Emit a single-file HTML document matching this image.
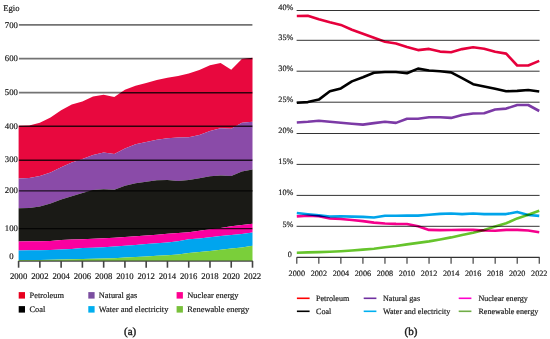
<!DOCTYPE html>
<html><head><meta charset="utf-8"><style>
html,body{margin:0;padding:0;background:#fff;}
body{width:550px;height:339px;overflow:hidden;}
svg{display:block;}
text{text-rendering:geometricPrecision;font-family:"Liberation Serif",serif;fill:#1a1a1a;stroke:#1a1a1a;stroke-width:0.18px;}
.l{font-size:8.7px;}
.r{font-size:8.2px;}
.lg{font-size:8.4px;}
.rg{font-size:8.1px;}
.cap{font-size:11px;stroke-width:0.4px;}
</style></head><body>
<svg width="550" height="339" viewBox="0 0 550 339">
<line x1="18.9" y1="24.8" x2="252.4" y2="24.8" stroke="#000" stroke-opacity="0.55" stroke-width="1.8"/>
<line x1="18.9" y1="58.6" x2="252.4" y2="58.6" stroke="#000" stroke-opacity="0.55" stroke-width="1.8"/>
<line x1="18.9" y1="92.7" x2="252.4" y2="92.7" stroke="#000" stroke-opacity="0.55" stroke-width="1.8"/>
<line x1="18.9" y1="126.3" x2="252.4" y2="126.3" stroke="#000" stroke-opacity="0.55" stroke-width="1.8"/>
<line x1="18.9" y1="160.2" x2="252.4" y2="160.2" stroke="#000" stroke-opacity="0.55" stroke-width="1.8"/>
<line x1="18.9" y1="190.9" x2="252.4" y2="190.9" stroke="#000" stroke-opacity="0.55" stroke-width="1.8"/>
<line x1="18.9" y1="228.6" x2="252.4" y2="228.6" stroke="#000" stroke-opacity="0.55" stroke-width="1.8"/>
<polygon points="18.6,125.7 29.23,125.4 39.86,122.8 50.5,117.6 61.13,110.2 71.76,104.5 82.39,101.5 93.02,96.5 103.66,94.8 114.29,97 124.92,89.8 135.55,85.8 146.18,83 156.82,80 167.45,77.8 178.08,76 188.71,73.6 199.34,70.1 209.98,65.3 220.61,63 231.24,69.7 241.87,59.1 252.5,57.7 252.5,121.8 241.87,122.7 231.24,128.7 220.61,128.3 209.98,131 199.34,135 188.71,137.2 178.08,137.5 167.45,138.3 156.82,139.8 146.18,142 135.55,144.3 124.92,148.4 114.29,154 103.66,152.6 93.02,155.1 82.39,159 71.76,162.4 61.13,167.2 50.5,172.6 39.86,176.1 29.23,178 18.6,178.6" fill="#E8083E"/>
<polygon points="18.6,178.6 29.23,178 39.86,176.1 50.5,172.6 61.13,167.2 71.76,162.4 82.39,159 93.02,155.1 103.66,152.6 114.29,154 124.92,148.4 135.55,144.3 146.18,142 156.82,139.8 167.45,138.3 178.08,137.5 188.71,137.2 199.34,135 209.98,131 220.61,128.3 231.24,128.7 241.87,122.7 252.5,121.8 252.5,169.4 241.87,171.5 231.24,175.9 220.61,175.4 209.98,176.3 199.34,178.2 188.71,180 178.08,181 167.45,180.1 156.82,180.3 146.18,181.8 135.55,183.2 124.92,185.8 114.29,189.7 103.66,189.2 93.02,190.1 82.39,192.9 71.76,196.2 61.13,199.5 50.5,203.5 39.86,206.5 29.23,208 18.6,208.3" fill="#8A4BA8"/>
<polygon points="18.6,208.3 29.23,208 39.86,206.5 50.5,203.5 61.13,199.5 71.76,196.2 82.39,192.9 93.02,190.1 103.66,189.2 114.29,189.7 124.92,185.8 135.55,183.2 146.18,181.8 156.82,180.3 167.45,180.1 178.08,181 188.71,180 199.34,178.2 209.98,176.3 220.61,175.4 231.24,175.9 241.87,171.5 252.5,169.4 252.5,223.8 241.87,225.1 231.24,226.3 220.61,228 209.98,229.2 199.34,230.8 188.71,232.3 178.08,233.1 167.45,233.8 156.82,234.7 146.18,235.5 135.55,236.3 124.92,236.9 114.29,237.7 103.66,238.3 93.02,238.7 82.39,239.2 71.76,239.4 61.13,239.9 50.5,240.9 39.86,241.2 29.23,241.3 18.6,241.5" fill="#1A1A16"/>
<polygon points="18.6,241.5 29.23,241.3 39.86,241.2 50.5,240.9 61.13,239.9 71.76,239.4 82.39,239.2 93.02,238.7 103.66,238.3 114.29,237.7 124.92,236.9 135.55,236.3 146.18,235.5 156.82,234.7 167.45,233.8 178.08,233.1 188.71,232.3 199.34,230.8 209.98,229.2 220.61,228 231.24,226.3 241.87,225.1 252.5,223.8 252.5,232.4 241.87,234 231.24,235 220.61,236 209.98,237.3 199.34,238.4 188.71,239.3 178.08,241.3 167.45,242.4 156.82,243.2 146.18,244 135.55,245 124.92,245.7 114.29,246.5 103.66,247.2 93.02,247.8 82.39,248.1 71.76,249.1 61.13,249.6 50.5,250 39.86,250.2 29.23,250.3 18.6,250.4" fill="#FA00A0"/>
<polygon points="18.6,250.4 29.23,250.3 39.86,250.2 50.5,250 61.13,249.6 71.76,249.1 82.39,248.1 93.02,247.8 103.66,247.2 114.29,246.5 124.92,245.7 135.55,245 146.18,244 156.82,243.2 167.45,242.4 178.08,241.3 188.71,239.3 199.34,238.4 209.98,237.3 220.61,236 231.24,235 241.87,234 252.5,232.4 252.5,245.7 241.87,247.5 231.24,248.6 220.61,249.8 209.98,251 199.34,252 188.71,253.1 178.08,254.4 167.45,255.2 156.82,255.8 146.18,256.5 135.55,257 124.92,257.5 114.29,258.2 103.66,258.5 93.02,258.8 82.39,259 71.76,259.3 61.13,259.5 50.5,259.7 39.86,259.9 29.23,260 18.6,260.1" fill="#00A5EE"/>
<polygon points="18.6,260.1 29.23,260 39.86,259.9 50.5,259.7 61.13,259.5 71.76,259.3 82.39,259 93.02,258.8 103.66,258.5 114.29,258.2 124.92,257.5 135.55,257 146.18,256.5 156.82,255.8 167.45,255.2 178.08,254.4 188.71,253.1 199.34,252 209.98,251 220.61,249.8 231.24,248.6 241.87,247.5 252.5,245.7 252.5,261 241.87,261 231.24,261 220.61,261 209.98,261 199.34,261 188.71,261 178.08,261 167.45,261 156.82,261 146.18,261 135.55,261 124.92,261 114.29,261 103.66,261 93.02,261 82.39,261 71.76,261 61.13,261 50.5,261 39.86,261 29.23,261 18.6,261" fill="#7ACF3A"/>
<clipPath id="ca"><polygon points="18.6,125.7 29.23,125.4 39.86,122.8 50.5,117.6 61.13,110.2 71.76,104.5 82.39,101.5 93.02,96.5 103.66,94.8 114.29,97 124.92,89.8 135.55,85.8 146.18,83 156.82,80 167.45,77.8 178.08,76 188.71,73.6 199.34,70.1 209.98,65.3 220.61,63 231.24,69.7 241.87,59.1 252.5,57.7 252.5,261 241.87,261 231.24,261 220.61,261 209.98,261 199.34,261 188.71,261 178.08,261 167.45,261 156.82,261 146.18,261 135.55,261 124.92,261 114.29,261 103.66,261 93.02,261 82.39,261 71.76,261 61.13,261 50.5,261 39.86,261 29.23,261 18.6,261"/></clipPath>
<g clip-path="url(#ca)">
<line x1="18.9" y1="24.8" x2="252.4" y2="24.8" stroke="#000" stroke-opacity="0.8" stroke-width="1.4"/>
<line x1="18.9" y1="58.6" x2="252.4" y2="58.6" stroke="#000" stroke-opacity="0.8" stroke-width="1.4"/>
<line x1="18.9" y1="92.7" x2="252.4" y2="92.7" stroke="#000" stroke-opacity="0.8" stroke-width="1.4"/>
<line x1="18.9" y1="126.3" x2="252.4" y2="126.3" stroke="#000" stroke-opacity="0.8" stroke-width="1.4"/>
<line x1="18.9" y1="160.2" x2="252.4" y2="160.2" stroke="#000" stroke-opacity="0.8" stroke-width="1.4"/>
<line x1="18.9" y1="190.9" x2="252.4" y2="190.9" stroke="#000" stroke-opacity="0.8" stroke-width="1.4"/>
<line x1="18.9" y1="228.6" x2="252.4" y2="228.6" stroke="#000" stroke-opacity="0.8" stroke-width="1.4"/>
</g>
<line x1="18.6" y1="261.1" x2="252.8" y2="261.1" stroke="#444" stroke-width="1.2"/>
<line x1="18.6" y1="261" x2="18.6" y2="267.7" stroke="#444" stroke-width="1.6"/>
<line x1="39.86" y1="261" x2="39.86" y2="267.7" stroke="#444" stroke-width="1.6"/>
<line x1="61.13" y1="261" x2="61.13" y2="267.7" stroke="#444" stroke-width="1.6"/>
<line x1="82.39" y1="261" x2="82.39" y2="267.7" stroke="#444" stroke-width="1.6"/>
<line x1="103.66" y1="261" x2="103.66" y2="267.7" stroke="#444" stroke-width="1.6"/>
<line x1="124.92" y1="261" x2="124.92" y2="267.7" stroke="#444" stroke-width="1.6"/>
<line x1="146.18" y1="261" x2="146.18" y2="267.7" stroke="#444" stroke-width="1.6"/>
<line x1="167.45" y1="261" x2="167.45" y2="267.7" stroke="#444" stroke-width="1.6"/>
<line x1="188.71" y1="261" x2="188.71" y2="267.7" stroke="#444" stroke-width="1.6"/>
<line x1="209.98" y1="261" x2="209.98" y2="267.7" stroke="#444" stroke-width="1.6"/>
<line x1="231.24" y1="261" x2="231.24" y2="267.7" stroke="#444" stroke-width="1.6"/>
<line x1="252.5" y1="261" x2="252.5" y2="267.7" stroke="#444" stroke-width="1.6"/>
<text x="11.3" y="27.6" class="l" text-anchor="middle">700</text>
<text x="11.3" y="60.8" class="l" text-anchor="middle">600</text>
<text x="11.3" y="95.4" class="l" text-anchor="middle">500</text>
<text x="11.3" y="128.8" class="l" text-anchor="middle">400</text>
<text x="11.3" y="162" class="l" text-anchor="middle">300</text>
<text x="11.3" y="193.4" class="l" text-anchor="middle">200</text>
<text x="11.3" y="230.8" class="l" text-anchor="middle">100</text>
<text x="11.3" y="258.6" class="l" text-anchor="middle">0</text>
<text x="3.2" y="10.9" class="l">Egio</text>
<text x="18.6" y="279.2" class="l" text-anchor="middle">2000</text>
<text x="39.86" y="279.2" class="l" text-anchor="middle">2002</text>
<text x="61.13" y="279.2" class="l" text-anchor="middle">2004</text>
<text x="82.39" y="279.2" class="l" text-anchor="middle">2006</text>
<text x="103.66" y="279.2" class="l" text-anchor="middle">2008</text>
<text x="124.92" y="279.2" class="l" text-anchor="middle">2010</text>
<text x="146.18" y="279.2" class="l" text-anchor="middle">2012</text>
<text x="167.45" y="279.2" class="l" text-anchor="middle">2014</text>
<text x="188.71" y="279.2" class="l" text-anchor="middle">2016</text>
<text x="209.98" y="279.2" class="l" text-anchor="middle">2018</text>
<text x="231.24" y="279.2" class="l" text-anchor="middle">2020</text>
<text x="252.5" y="279.2" class="l" text-anchor="middle">2022</text>
<line x1="296.6" y1="10.5" x2="539.6" y2="10.5" stroke="#000" stroke-opacity="0.8" stroke-width="1"/>
<line x1="296.6" y1="40.3" x2="539.6" y2="40.3" stroke="#000" stroke-opacity="0.8" stroke-width="1"/>
<line x1="296.6" y1="71.2" x2="539.6" y2="71.2" stroke="#000" stroke-opacity="0.8" stroke-width="1"/>
<line x1="296.6" y1="102.2" x2="539.6" y2="102.2" stroke="#000" stroke-opacity="0.8" stroke-width="1"/>
<line x1="296.6" y1="133.5" x2="539.6" y2="133.5" stroke="#000" stroke-opacity="0.8" stroke-width="1"/>
<line x1="296.6" y1="164.4" x2="539.6" y2="164.4" stroke="#000" stroke-opacity="0.8" stroke-width="1"/>
<line x1="296.6" y1="195.4" x2="539.6" y2="195.4" stroke="#000" stroke-opacity="0.8" stroke-width="1"/>
<line x1="296.6" y1="226.3" x2="539.6" y2="226.3" stroke="#000" stroke-opacity="0.8" stroke-width="1"/>
<line x1="296.8" y1="257.4" x2="539.6" y2="257.4" stroke="#333" stroke-width="1.1"/>
<line x1="296.8" y1="257.3" x2="296.8" y2="263.8" stroke="#333" stroke-width="1.1"/>
<line x1="318.84" y1="257.3" x2="318.84" y2="263.8" stroke="#333" stroke-width="1.1"/>
<line x1="340.88" y1="257.3" x2="340.88" y2="263.8" stroke="#333" stroke-width="1.1"/>
<line x1="362.92" y1="257.3" x2="362.92" y2="263.8" stroke="#333" stroke-width="1.1"/>
<line x1="384.96" y1="257.3" x2="384.96" y2="263.8" stroke="#333" stroke-width="1.1"/>
<line x1="407" y1="257.3" x2="407" y2="263.8" stroke="#333" stroke-width="1.1"/>
<line x1="429.04" y1="257.3" x2="429.04" y2="263.8" stroke="#333" stroke-width="1.1"/>
<line x1="451.08" y1="257.3" x2="451.08" y2="263.8" stroke="#333" stroke-width="1.1"/>
<line x1="473.12" y1="257.3" x2="473.12" y2="263.8" stroke="#333" stroke-width="1.1"/>
<line x1="495.16" y1="257.3" x2="495.16" y2="263.8" stroke="#333" stroke-width="1.1"/>
<line x1="517.2" y1="257.3" x2="517.2" y2="263.8" stroke="#333" stroke-width="1.1"/>
<line x1="539.24" y1="257.3" x2="539.24" y2="263.8" stroke="#333" stroke-width="1.1"/>
<text x="293.3" y="10.2" class="r" text-anchor="end">40%</text>
<text x="293.3" y="40.2" class="r" text-anchor="end">35%</text>
<text x="293.3" y="71.1" class="r" text-anchor="end">30%</text>
<text x="293.3" y="102.1" class="r" text-anchor="end">25%</text>
<text x="293.3" y="132.8" class="r" text-anchor="end">20%</text>
<text x="293.3" y="164.1" class="r" text-anchor="end">15%</text>
<text x="293.3" y="195.1" class="r" text-anchor="end">10%</text>
<text x="293.3" y="226.5" class="r" text-anchor="end">5%</text>
<text x="291.8" y="256.6" class="r" text-anchor="end">0</text>
<text x="296.8" y="275.8" class="r" text-anchor="middle">2000</text>
<text x="318.84" y="275.8" class="r" text-anchor="middle">2002</text>
<text x="340.88" y="275.8" class="r" text-anchor="middle">2004</text>
<text x="362.92" y="275.8" class="r" text-anchor="middle">2006</text>
<text x="384.96" y="275.8" class="r" text-anchor="middle">2008</text>
<text x="407" y="275.8" class="r" text-anchor="middle">2010</text>
<text x="429.04" y="275.8" class="r" text-anchor="middle">2012</text>
<text x="451.08" y="275.8" class="r" text-anchor="middle">2014</text>
<text x="473.12" y="275.8" class="r" text-anchor="middle">2016</text>
<text x="495.16" y="275.8" class="r" text-anchor="middle">2018</text>
<text x="517.2" y="275.8" class="r" text-anchor="middle">2020</text>
<text x="539.24" y="275.8" class="r" text-anchor="middle">2022</text>
<g fill="none" stroke-width="2.6" stroke-linejoin="round" stroke-linecap="butt" style="mix-blend-mode:multiply">
<polyline points="296.8,252.7 307.82,252.4 318.84,252.1 329.86,251.7 340.88,251.2 351.9,250.5 362.92,249.6 373.94,248.7 384.96,247.3 395.98,246 407,244.4 418.02,242.9 429.04,241.4 440.06,239.5 451.08,237.4 462.1,234.9 473.12,232.7 484.14,229.9 495.16,226.6 506.18,223.3 517.2,218.4 528.22,214.8 539.24,210.7" stroke="#66C42C" style="mix-blend-mode:multiply"/>
<polyline points="296.8,216.4 307.82,215.7 318.84,216.3 329.86,218.5 340.88,219 351.9,220 362.92,221.1 373.94,222.6 384.96,223.5 395.98,223.9 407,224 418.02,226.2 429.04,229.9 440.06,230.1 451.08,230 462.1,229.9 473.12,229.9 484.14,230.5 495.16,230.8 506.18,229.9 517.2,229.9 528.22,230.5 539.24,232.3" stroke="#F5008C" style="mix-blend-mode:multiply"/>
<polyline points="296.8,213 307.82,214.2 318.84,215.4 329.86,216.5 340.88,216.3 351.9,216.6 362.92,216.9 373.94,217.5 384.96,215.8 395.98,215.7 407,215.6 418.02,215.6 429.04,214.7 440.06,213.9 451.08,213.5 462.1,214.1 473.12,213.5 484.14,214.1 495.16,214.1 506.18,214.1 517.2,211.9 528.22,215 539.24,215.9" stroke="#00A4EA" style="mix-blend-mode:multiply"/>
<polyline points="296.8,122.5 307.82,121.8 318.84,120.7 329.86,121.8 340.88,122.8 351.9,123.7 362.92,124.6 373.94,123.1 384.96,121.7 395.98,122.9 407,118.8 418.02,118.7 429.04,117.3 440.06,117.2 451.08,117.9 462.1,115 473.12,113.5 484.14,113.2 495.16,109.5 506.18,108.6 517.2,105 528.22,105 539.24,111" stroke="#7C3AA6" style="mix-blend-mode:multiply"/>
<polyline points="296.8,102.8 307.82,102.1 318.84,99.6 329.86,91.3 340.88,88.4 351.9,81.4 362.92,77.2 373.94,72.7 384.96,72 395.98,72 407,73.3 418.02,68.6 429.04,70.5 440.06,71.2 451.08,72.4 462.1,78.2 473.12,84.2 484.14,86.4 495.16,88.7 506.18,91.3 517.2,90.9 528.22,90 539.24,91.5" stroke="#000000" style="mix-blend-mode:multiply"/>
<polyline points="296.8,16 307.82,15.8 318.84,19.3 329.86,22.3 340.88,24.9 351.9,29.8 362.92,33.8 373.94,37.8 384.96,41.7 395.98,43.5 407,47.1 418.02,50.1 429.04,48.9 440.06,51.6 451.08,52.2 462.1,49.1 473.12,47.3 484.14,48.7 495.16,51.8 506.18,53.6 517.2,65.5 528.22,65.5 539.24,60.9" stroke="#E6003C" style="mix-blend-mode:multiply"/>
</g>
<rect x="18.7" y="292.1" width="6.3" height="6.5" fill="#E8001E"/>
<rect x="18.7" y="306.1" width="6.3" height="6.5" fill="#000"/>
<rect x="88.3" y="292.1" width="6.3" height="6.5" fill="#7B4EA0"/>
<rect x="88.3" y="306.1" width="6.3" height="6.5" fill="#00AEEF"/>
<rect x="176.6" y="292.1" width="6.3" height="6.5" fill="#FF0090"/>
<rect x="176.6" y="306.1" width="6.3" height="6.5" fill="#78C03A"/>
<text x="29.5" y="298.3" class="lg">Petroleum</text>
<text x="29.5" y="312.3" class="lg">Coal</text>
<text x="98.8" y="298.3" class="lg">Natural gas</text>
<text x="98.8" y="312.3" class="lg">Water and electricity</text>
<text x="187.2" y="298.3" class="lg">Nuclear energy</text>
<text x="187.2" y="312.3" class="lg">Renewable energy</text>
<text x="130.2" y="334.8" class="cap" text-anchor="middle">(a)</text>
<line x1="296.9" y1="298.3" x2="309.59999999999997" y2="298.3" stroke="#FF0000" stroke-width="1.6"/>
<line x1="296.9" y1="311.3" x2="309.59999999999997" y2="311.3" stroke="#000" stroke-width="1.6"/>
<line x1="363.7" y1="298.3" x2="376.4" y2="298.3" stroke="#7030A0" stroke-width="1.6"/>
<line x1="363.7" y1="311.3" x2="376.4" y2="311.3" stroke="#00B0F0" stroke-width="1.6"/>
<line x1="458.7" y1="298.3" x2="471.4" y2="298.3" stroke="#FF00CC" stroke-width="1.6"/>
<line x1="458.7" y1="311.3" x2="471.4" y2="311.3" stroke="#70AD47" stroke-width="1.6"/>
<text x="316" y="301.2" class="rg">Petroleum</text>
<text x="316" y="314.1" class="rg">Coal</text>
<text x="383" y="301.2" class="rg">Natural gas</text>
<text x="383" y="314.1" class="rg">Water and electricity</text>
<text x="478.4" y="301.2" class="rg">Nuclear energy</text>
<text x="478.4" y="314.1" class="rg">Renewable energy</text>
<text x="410.9" y="334.8" class="cap" text-anchor="middle">(b)</text>
</svg>
</body></html>
